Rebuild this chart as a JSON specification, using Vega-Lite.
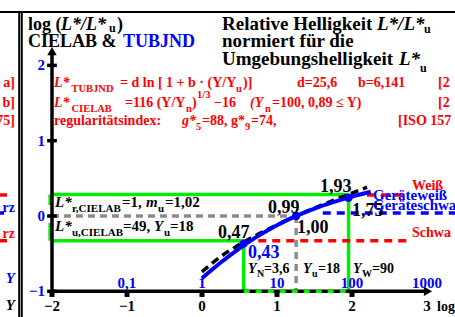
{
"$schema":"https://vega.github.io/schema/vega-lite/v6.json",
"width":455,"height":317,"autosize":"none","padding":0,
"config":{"view":{"stroke":null}},
"datasets":{
"R":[
{"k":"frame","x":-2.7,"y":2.709,"x2":3.4,"y2":2.709},
{"k":"frame","x":-2.4373,"y":2.709,"x2":-2.4373,"y2":-1.36},
{"k":"frame","x":-2.4027,"y":2.709,"x2":-2.4027,"y2":-1.36},
{"k":"green","x":-2,"y":0.2856,"x2":1.954,"y2":0.2856},
{"k":"green","x":1.954,"y":0.2856,"x2":1.954,"y2":-1},
{"k":"green","x":-2,"y":-0.328,"x2":0.556,"y2":-0.328},
{"k":"green","x":0.556,"y":-0.328,"x2":0.556,"y2":-1},
{"k":"green","x":-2.025,"y":0.2856,"x2":-2.025,"y2":0.146},
{"k":"green","x":-2.025,"y":-0.093,"x2":-2.025,"y2":-0.328},
{"k":"grey","x":-2,"y":0,"x2":1.255,"y2":0},
{"k":"grey","x":1.255,"y":0,"x2":1.255,"y2":-1},
{"k":"red","x":0.75,"y":-0.328,"x2":2.75,"y2":-0.328},
{"k":"red","x":2.2,"y":0.279,"x2":2.7,"y2":0.279},
{"k":"blue","x":1.61,"y":0.04,"x2":3.45,"y2":0.04},
{"k":"lred","x":-2.75,"y":0.279,"x2":-2.6,"y2":0.279},
{"k":"lred","x":-2.75,"y":-0.328,"x2":-2.6,"y2":-0.328},
{"k":"lblue","x":-2.75,"y":0.04,"x2":-2.64,"y2":0.04},
{"k":"ax","x":-2,"y":-1,"x2":-2,"y2":2.15},
{"k":"ax","x":-2,"y":-1,"x2":2.98,"y2":-1},
{"k":"gdash","x":0.556,"y":-1,"x2":1.954,"y2":-1},
{"k":"tick","x":-2.065,"y":2,"x2":-1.935,"y2":2},
{"k":"tick","x":-2.065,"y":1,"x2":-1.935,"y2":1},
{"k":"tick","x":-2.065,"y":0,"x2":-1.935,"y2":0},
{"k":"tick","x":-2.065,"y":-1,"x2":-1.935,"y2":-1},
{"k":"xtick","x":-2,"y":-1,"x2":-2,"y2":-1.075},
{"k":"xtick","x":-1,"y":-1,"x2":-1,"y2":-1.075},
{"k":"xtick","x":0,"y":-1,"x2":0,"y2":-1.075},
{"k":"xtick","x":1,"y":-1,"x2":1,"y2":-1.075},
{"k":"xtick","x":2,"y":-1,"x2":2,"y2":-1.075}
],
"C":[
{"s":"cielab","x":0,"y":-0.741},{"s":"cielab","x":0.25,"y":-0.540},{"s":"cielab","x":0.5,"y":-0.379},{"s":"cielab","x":0.75,"y":-0.241},{"s":"cielab","x":1.0,"y":-0.117},{"s":"cielab","x":1.25,"y":-0.002},{"s":"cielab","x":1.5,"y":0.105},{"s":"cielab","x":1.75,"y":0.207},{"s":"cielab","x":2.0,"y":0.305},{"s":"cielab","x":2.2,"y":0.382},
{"s":"tub","x":0,"y":-0.826},{"s":"tub","x":0.25,"y":-0.618},{"s":"tub","x":0.5,"y":-0.429},{"s":"tub","x":0.75,"y":-0.264},{"s":"tub","x":1.0,"y":-0.122},{"s":"tub","x":1.25,"y":-0.002},{"s":"tub","x":1.5,"y":0.099},{"s":"tub","x":1.75,"y":0.184},{"s":"tub","x":2.0,"y":0.258},{"s":"tub","x":2.25,"y":0.322}
],
"P":[
{"x":0.556,"y":-0.3665},{"x":1.255,"y":0},{"x":1.954,"y":0.243}
],
"A":[
{"s":"up","x":-2,"y":2.19},{"s":"right","x":3.013,"y":-1}
],
"T":[
{"c":"h","x":-2.32,"y":2.470,"t":"log ("},
{"c":"hi","x":-1.88,"y":2.470,"t":"L*/L*"},
{"c":"hs","x":-1.24,"y":2.444,"t":"u"},
{"c":"h","x":-1.1333,"y":2.470,"t":")"},
{"c":"h","x":-2.32,"y":2.244,"t":"CIELAB &"},
{"c":"hb","x":-1.0533,"y":2.244,"t":"TUBJND"},
{"c":"g19","x":0.2667,"y":2.470,"t":"Relative Helligkeit"},
{"c":"gi19","x":2.3333,"y":2.470,"t":"L*/L*"},
{"c":"hs","x":2.96,"y":2.430,"t":"u"},
{"c":"g19","x":0.2667,"y":2.244,"t":"normiert für die"},
{"c":"g19","x":0.2667,"y":2.005,"t":"Umgebungshelligkeit"},
{"c":"gi19","x":2.6267,"y":2.005,"t":"L*"},
{"c":"hs","x":2.9067,"y":1.912,"t":"u"},
{"c":"ri","x":-1.9733,"y":1.713,"t":"L*"},
{"c":"rs","x":-1.74,"y":1.647,"t":"TUBJND"},
{"c":"r","x":-1.0933,"y":1.713,"t":"= d ln [ 1 + b · (Y/Y"},
{"c":"rs","x":0.4533,"y":1.647,"t":"u"},
{"c":"r","x":0.5467,"y":1.713,"t":")]"},
{"c":"r","x":1.2667,"y":1.713,"t":"d=25,6"},
{"c":"r","x":2.08,"y":1.713,"t":"b=6,141"},
{"c":"r","x":3.1467,"y":1.713,"t":"[2"},
{"c":"ri","x":-1.9733,"y":1.448,"t":"L*"},
{"c":"rs","x":-1.74,"y":1.381,"t":"CIELAB"},
{"c":"r","x":-1.0267,"y":1.448,"t":"=116 (Y/Y"},
{"c":"rs","x":-0.2133,"y":1.381,"t":"n"},
{"c":"r","x":-0.1333,"y":1.448,"t":")"},
{"c":"rs","x":-0.0667,"y":1.567,"t":"1/3"},
{"c":"r","x":0.16,"y":1.448,"t":"−16"},
{"c":"ri","x":0.64,"y":1.448,"t":"(Y"},
{"c":"rs","x":0.84,"y":1.381,"t":"n"},
{"c":"r","x":0.9333,"y":1.448,"t":"=100, 0,89 ≤ Y)"},
{"c":"r","x":3.1467,"y":1.448,"t":"[2"},
{"c":"r","x":-1.9733,"y":1.208,"t":"regularitätsindex:"},
{"c":"ri","x":-0.2667,"y":1.208,"t":"g*"},
{"c":"rs","x":-0.08,"y":1.142,"t":"5"},
{"c":"r","x":0,"y":1.208,"t":"=88, g*"},
{"c":"rs","x":0.5733,"y":1.142,"t":"9"},
{"c":"r","x":0.6533,"y":1.208,"t":"=74,"},
{"c":"r","x":2.6133,"y":1.208,"t":"[ISO 157"},
{"c":"h","x":1.5733,"y":0.319,"t":"1,93"},
{"c":"h","x":0.88,"y":0.040,"t":"0,99"},
{"c":"h","x":2.0,"y":0.0,"t":"1,75"},
{"c":"h","x":1.2667,"y":-0.232,"t":"1,00"},
{"c":"h","x":0.2133,"y":-0.292,"t":"0,47"},
{"c":"hb","x":0.6133,"y":-0.558,"t":"0,43"},
{"c":"yi","x":0.6133,"y":-0.757,"t":"Y"},
{"c":"ys","x":0.7333,"y":-0.810,"t":"N"},
{"c":"y","x":0.8267,"y":-0.757,"t":"=3,6"},
{"c":"yi","x":1.3467,"y":-0.757,"t":"Y"},
{"c":"ys","x":1.4667,"y":-0.810,"t":"u"},
{"c":"y","x":1.5467,"y":-0.757,"t":"=18"},
{"c":"yi","x":2.0133,"y":-0.757,"t":"Y"},
{"c":"ys","x":2.1333,"y":-0.810,"t":"W"},
{"c":"y","x":2.2667,"y":-0.757,"t":"=90"},
{"c":"mi","x":-1.96,"y":0.120,"t":"L*"},
{"c":"ms","x":-1.7333,"y":0.053,"t":"r,CIELAB"},
{"c":"m","x":-1.0667,"y":0.120,"t":"=1,"},
{"c":"mi","x":-0.7467,"y":0.120,"t":"m"},
{"c":"ms","x":-0.5867,"y":0.053,"t":"u"},
{"c":"m","x":-0.4933,"y":0.120,"t":"=1,02"},
{"c":"mi","x":-1.96,"y":-0.199,"t":"L*"},
{"c":"ms","x":-1.7333,"y":-0.266,"t":"u,CIELAB"},
{"c":"m","x":-1.0533,"y":-0.199,"t":"=49,"},
{"c":"mi","x":-0.64,"y":-0.199,"t":"Y"},
{"c":"ms","x":-0.5067,"y":-0.266,"t":"u"},
{"c":"m","x":-0.4267,"y":-0.199,"t":"=18"},
{"c":"gb","x":2.28,"y":0.212,"t":"Geräteweiß"},
{"c":"gb","x":2.28,"y":0.080,"t":"Geräteschwa"},
{"c":"wr","x":2.8,"y":0.345,"t":"Weiß"},
{"c":"wr","x":2.8,"y":-0.279,"t":"Schwa"},
{"c":"axk","x":-2,"y":-1.262,"t":"−2"},
{"c":"axk","x":-1,"y":-1.262,"t":"−1"},
{"c":"axk","x":0,"y":-1.262,"t":"0"},
{"c":"axk","x":1,"y":-1.262,"t":"1"},
{"c":"axk","x":2,"y":-1.262,"t":"2"},
{"c":"axk","x":3,"y":-1.262,"t":"3"},
{"c":"y","x":3.1333,"y":-1.262,"t":"log"},
{"c":"axb","x":-1,"y":-0.95,"t":"0,1"},
{"c":"axb","x":0,"y":-0.95,"t":"1"},
{"c":"axb","x":1,"y":-0.95,"t":"10"},
{"c":"axb","x":2,"y":-0.95,"t":"100"},
{"c":"axb","x":3,"y":-0.95,"t":"1000"},
{"c":"ayb","x":-2.093,"y":2,"t":"2"},
{"c":"ayb","x":-2.093,"y":1,"t":"1"},
{"c":"ayb","x":-2.093,"y":0,"t":"0"},
{"c":"ayb","x":-2.093,"y":-1,"t":"−1"},
{"c":"lr","x":-2.4933,"y":1.713,"t":"a]"},
{"c":"lr","x":-2.4933,"y":1.448,"t":"b]"},
{"c":"lr","x":-2.4933,"y":1.208,"t":"75]"},
{"c":"lb","x":-2.4933,"y":0.053,"t":"rz"},
{"c":"lr","x":-2.4933,"y":-0.292,"t":"rz"},
{"c":"lbi","x":-2.4933,"y":-0.89,"t":"Y"},
{"c":"lki","x":-2.4933,"y":-1.248,"t":"Y"}
]
},
"encoding":{
"x":{"field":"x","type":"quantitative","scale":{"domain":[-2.6933,3.3733],"nice":false,"zero":false},"axis":null},
"y":{"field":"y","type":"quantitative","scale":{"domain":[-1.3413,2.8685],"nice":false,"zero":false},"axis":null}
},
"layer":[
{"data":{"name":"R"},"transform":[{"filter":"datum.k==='frame'"}],"mark":{"type":"rule","color":"#000000","strokeWidth":2},"encoding":{"x2":{"field":"x2"},"y2":{"field":"y2"}}},
{"data":{"name":"R"},"transform":[{"filter":"datum.k==='green'"}],"mark":{"type":"rule","color":"#00ee00","strokeWidth":3.5},"encoding":{"x2":{"field":"x2"},"y2":{"field":"y2"}}},
{"data":{"name":"R"},"transform":[{"filter":"datum.k==='grey'"}],"mark":{"type":"rule","color":"#8c8c8c","strokeWidth":3.5,"strokeDash":[7,5]},"encoding":{"x2":{"field":"x2"},"y2":{"field":"y2"}}},
{"data":{"name":"R"},"transform":[{"filter":"datum.k==='red'"}],"mark":{"type":"rule","color":"#ff0000","strokeWidth":3.5,"strokeDash":[8,6]},"encoding":{"x2":{"field":"x2"},"y2":{"field":"y2"}}},
{"data":{"name":"R"},"transform":[{"filter":"datum.k==='blue'"}],"mark":{"type":"rule","color":"#0000ff","strokeWidth":3.5,"strokeDash":[8,6]},"encoding":{"x2":{"field":"x2"},"y2":{"field":"y2"}}},
{"data":{"name":"R"},"transform":[{"filter":"datum.k==='lred'"}],"mark":{"type":"rule","color":"#ff0000","strokeWidth":3.5},"encoding":{"x2":{"field":"x2"},"y2":{"field":"y2"}}},
{"data":{"name":"R"},"transform":[{"filter":"datum.k==='lblue'"}],"mark":{"type":"rule","color":"#0000ff","strokeWidth":3.5},"encoding":{"x2":{"field":"x2"},"y2":{"field":"y2"}}},
{"data":{"name":"C"},"transform":[{"filter":"datum.s==='cielab'"}],"mark":{"type":"line","color":"#000000","strokeWidth":3.5,"strokeDash":[8,5],"interpolate":"monotone"},"encoding":{}},
{"data":{"name":"C"},"transform":[{"filter":"datum.s==='tub'"}],"mark":{"type":"line","color":"#0000ff","strokeWidth":4,"interpolate":"monotone"},"encoding":{}},
{"data":{"name":"R"},"transform":[{"filter":"datum.k==='ax'"}],"mark":{"type":"rule","color":"#000000","strokeWidth":3.5},"encoding":{"x2":{"field":"x2"},"y2":{"field":"y2"}}},
{"data":{"name":"R"},"transform":[{"filter":"datum.k==='gdash'"}],"mark":{"type":"rule","color":"#00ee00","strokeWidth":3.5,"strokeDash":[6,6]},"encoding":{"x2":{"field":"x2"},"y2":{"field":"y2"}}},
{"data":{"name":"R"},"transform":[{"filter":"datum.k==='tick'"}],"mark":{"type":"rule","color":"#000000","strokeWidth":3.5},"encoding":{"x2":{"field":"x2"},"y2":{"field":"y2"}}},
{"data":{"name":"R"},"transform":[{"filter":"datum.k==='xtick'"}],"mark":{"type":"rule","color":"#000000","strokeWidth":5},"encoding":{"x2":{"field":"x2"},"y2":{"field":"y2"}}},
{"data":{"name":"A"},"transform":[{"filter":"datum.s==='up'"}],"mark":{"type":"point","shape":"triangle-up","filled":true,"color":"#000000","size":90,"opacity":1}},
{"data":{"name":"A"},"transform":[{"filter":"datum.s==='right'"}],"mark":{"type":"point","shape":"triangle-right","filled":true,"color":"#000000","size":90,"opacity":1}},
{"data":{"name":"P"},"mark":{"type":"point","shape":"circle","filled":true,"color":"#0000ff","size":70,"opacity":1}},
{"data":{"name":"T"},"transform":[{"filter":"datum.c==='h'"}],"mark":{"type":"text","font":"Liberation Serif","fontWeight":"bold","fontSize":18,"color":"#000000","align":"left","baseline":"alphabetic"},"encoding":{"text":{"field":"t"}}},
{"data":{"name":"T"},"transform":[{"filter":"datum.c==='hi'"}],"mark":{"type":"text","font":"Liberation Serif","fontWeight":"bold","fontStyle":"italic","fontSize":18,"color":"#000000","align":"left","baseline":"alphabetic"},"encoding":{"text":{"field":"t"}}},
{"data":{"name":"T"},"transform":[{"filter":"datum.c==='g19'"}],"mark":{"type":"text","font":"Liberation Serif","fontWeight":"bold","fontSize":19,"color":"#000000","align":"left","baseline":"alphabetic"},"encoding":{"text":{"field":"t"}}},
{"data":{"name":"T"},"transform":[{"filter":"datum.c==='gi19'"}],"mark":{"type":"text","font":"Liberation Serif","fontWeight":"bold","fontStyle":"italic","fontSize":19,"color":"#000000","align":"left","baseline":"alphabetic"},"encoding":{"text":{"field":"t"}}},
{"data":{"name":"T"},"transform":[{"filter":"datum.c==='hs'"}],"mark":{"type":"text","font":"Liberation Serif","fontWeight":"bold","fontSize":12,"color":"#000000","align":"left","baseline":"alphabetic"},"encoding":{"text":{"field":"t"}}},
{"data":{"name":"T"},"transform":[{"filter":"datum.c==='hb'"}],"mark":{"type":"text","font":"Liberation Serif","fontWeight":"bold","fontSize":18,"color":"#0000ff","align":"left","baseline":"alphabetic"},"encoding":{"text":{"field":"t"}}},
{"data":{"name":"T"},"transform":[{"filter":"datum.c==='r'"}],"mark":{"type":"text","font":"Liberation Serif","fontWeight":"bold","fontSize":14,"color":"#ff0000","align":"left","baseline":"alphabetic"},"encoding":{"text":{"field":"t"}}},
{"data":{"name":"T"},"transform":[{"filter":"datum.c==='ri'"}],"mark":{"type":"text","font":"Liberation Serif","fontWeight":"bold","fontStyle":"italic","fontSize":14,"color":"#ff0000","align":"left","baseline":"alphabetic"},"encoding":{"text":{"field":"t"}}},
{"data":{"name":"T"},"transform":[{"filter":"datum.c==='rs'"}],"mark":{"type":"text","font":"Liberation Serif","fontWeight":"bold","fontSize":10.5,"color":"#ff0000","align":"left","baseline":"alphabetic"},"encoding":{"text":{"field":"t"}}},
{"data":{"name":"T"},"transform":[{"filter":"datum.c==='m'"}],"mark":{"type":"text","font":"Liberation Serif","fontWeight":"bold","fontSize":15,"color":"#000000","align":"left","baseline":"alphabetic"},"encoding":{"text":{"field":"t"}}},
{"data":{"name":"T"},"transform":[{"filter":"datum.c==='mi'"}],"mark":{"type":"text","font":"Liberation Serif","fontWeight":"bold","fontStyle":"italic","fontSize":15,"color":"#000000","align":"left","baseline":"alphabetic"},"encoding":{"text":{"field":"t"}}},
{"data":{"name":"T"},"transform":[{"filter":"datum.c==='ms'"}],"mark":{"type":"text","font":"Liberation Serif","fontWeight":"bold","fontSize":11,"color":"#000000","align":"left","baseline":"alphabetic"},"encoding":{"text":{"field":"t"}}},
{"data":{"name":"T"},"transform":[{"filter":"datum.c==='y'"}],"mark":{"type":"text","font":"Liberation Serif","fontWeight":"bold","fontSize":14,"color":"#000000","align":"left","baseline":"alphabetic"},"encoding":{"text":{"field":"t"}}},
{"data":{"name":"T"},"transform":[{"filter":"datum.c==='yi'"}],"mark":{"type":"text","font":"Liberation Serif","fontWeight":"bold","fontStyle":"italic","fontSize":14,"color":"#000000","align":"left","baseline":"alphabetic"},"encoding":{"text":{"field":"t"}}},
{"data":{"name":"T"},"transform":[{"filter":"datum.c==='ys'"}],"mark":{"type":"text","font":"Liberation Serif","fontWeight":"bold","fontSize":10,"color":"#000000","align":"left","baseline":"alphabetic"},"encoding":{"text":{"field":"t"}}},
{"data":{"name":"T"},"transform":[{"filter":"datum.c==='gb'"}],"mark":{"type":"text","font":"Liberation Serif","fontWeight":"bold","fontSize":15,"color":"#0000ff","align":"left","baseline":"alphabetic"},"encoding":{"text":{"field":"t"}}},
{"data":{"name":"T"},"transform":[{"filter":"datum.c==='wr'"}],"mark":{"type":"text","font":"Liberation Serif","fontWeight":"bold","fontSize":14,"color":"#ff0000","align":"left","baseline":"alphabetic"},"encoding":{"text":{"field":"t"}}},
{"data":{"name":"T"},"transform":[{"filter":"datum.c==='axk'"}],"mark":{"type":"text","font":"Liberation Serif","fontWeight":"bold","fontSize":15,"color":"#000000","align":"center","baseline":"alphabetic"},"encoding":{"text":{"field":"t"}}},
{"data":{"name":"T"},"transform":[{"filter":"datum.c==='axb'"}],"mark":{"type":"text","font":"Liberation Serif","fontWeight":"bold","fontSize":15,"color":"#0000ff","align":"center","baseline":"alphabetic"},"encoding":{"text":{"field":"t"}}},
{"data":{"name":"T"},"transform":[{"filter":"datum.c==='ayb'"}],"mark":{"type":"text","font":"Liberation Serif","fontWeight":"bold","fontSize":15,"color":"#0000ff","align":"right","baseline":"middle"},"encoding":{"text":{"field":"t"}}},
{"data":{"name":"T"},"transform":[{"filter":"datum.c==='lr'"}],"mark":{"type":"text","font":"Liberation Serif","fontWeight":"bold","fontSize":14,"color":"#ff0000","align":"right","baseline":"alphabetic"},"encoding":{"text":{"field":"t"}}},
{"data":{"name":"T"},"transform":[{"filter":"datum.c==='lb'"}],"mark":{"type":"text","font":"Liberation Serif","fontWeight":"bold","fontSize":14,"color":"#0000ff","align":"right","baseline":"alphabetic"},"encoding":{"text":{"field":"t"}}},
{"data":{"name":"T"},"transform":[{"filter":"datum.c==='lbi'"}],"mark":{"type":"text","font":"Liberation Serif","fontWeight":"bold","fontStyle":"italic","fontSize":15,"color":"#0000ff","align":"right","baseline":"alphabetic"},"encoding":{"text":{"field":"t"}}},
{"data":{"name":"T"},"transform":[{"filter":"datum.c==='lki'"}],"mark":{"type":"text","font":"Liberation Serif","fontWeight":"bold","fontStyle":"italic","fontSize":15,"color":"#000000","align":"right","baseline":"alphabetic"},"encoding":{"text":{"field":"t"}}}
]
}
